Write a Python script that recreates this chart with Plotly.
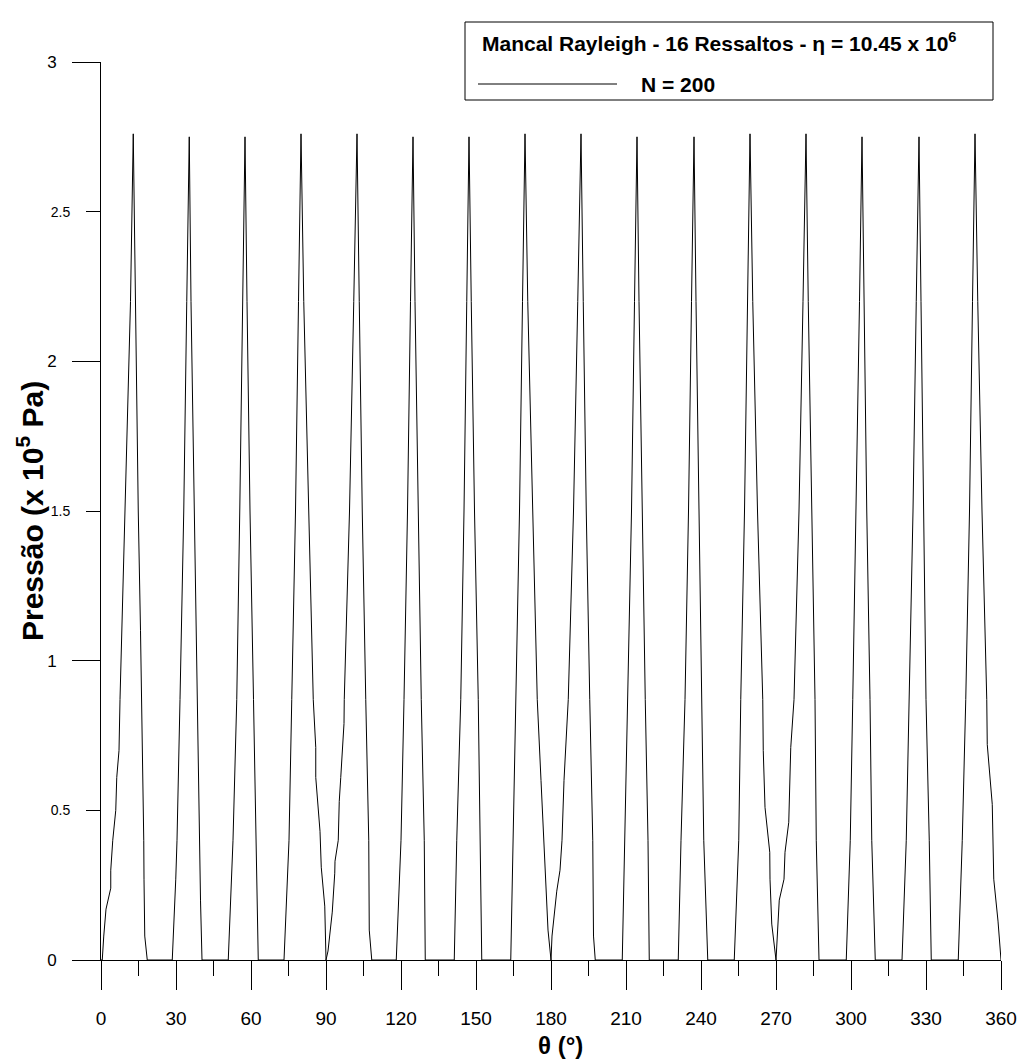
import plotly.graph_objects as go

# Pressure profile of a 16-step Rayleigh bearing, one list of nodes per step
# (angle in degrees, pressure in 1e5 Pa), rising flank -> crest -> falling flank.
spike_theta = [
    [0.5, 1.1, 2.0, 3.9, 3.9, 4.7, 5.9, 6.3, 7.2, 7.6, 8.3, 9.6, 11.8, 12.9, 13.7, 14.9, 15.8, 16.3, 17.1, 17.2, 17.5, 18.5],
    [28.5, 29.9, 30.4, 31.6, 33.1, 34.3, 35.3, 36.0, 37.3, 38.7, 39.5, 39.8, 40.4],
    [50.9, 52.8, 54.3, 55.5, 56.6, 57.6, 58.4, 59.6, 61.0, 62.0, 62.9],
    [73.2, 75.2, 76.3, 77.8, 79.0, 80.0, 81.1, 83.0, 84.9, 85.9, 85.9, 87.6, 88.1, 89.5, 90.0],
    [90.0, 90.8, 92.5, 93.5, 93.6, 94.9, 95.3, 95.9, 97.2, 97.3, 99.4, 101.1, 102.4, 103.3, 104.5, 105.9, 107.1, 107.3, 108.3],
    [118.1, 120.0, 121.2, 122.6, 123.8, 124.8, 125.6, 126.8, 128.1, 129.3, 129.7],
    [141.3, 142.3, 143.9, 145.2, 146.3, 147.2, 148.1, 149.4, 150.9, 151.6, 152.3],
    [163.9, 164.8, 165.9, 167.4, 168.6, 169.6, 170.7, 172.6, 174.5, 176.0, 177.2, 178.5, 178.8, 180.0],
    [180.0, 180.4, 182.3, 183.6, 184.4, 185.2, 186.9, 189.0, 190.7, 192.0, 192.9, 194.1, 195.5, 196.7, 197.0, 197.7],
    [208.5, 209.5, 210.8, 212.2, 213.4, 214.4, 215.2, 216.4, 217.7, 218.8, 219.3],
    [230.9, 232.0, 233.6, 235.0, 236.2, 237.2, 238.0, 239.1, 240.3, 241.1, 242.7],
    [253.3, 255.1, 255.9, 257.4, 258.6, 259.6, 260.7, 262.6, 264.7, 264.9, 265.6, 267.1, 267.5, 267.6, 268.3, 270.0],
    [270.0, 270.5, 271.3, 273.2, 273.6, 275.1, 275.3, 275.6, 275.9, 277.2, 279.2, 280.8, 282.0, 282.9, 284.2, 285.6, 286.1, 287.2],
    [298.1, 299.7, 300.7, 302.1, 303.4, 304.4, 305.2, 306.3, 307.6, 308.3, 309.7],
    [320.4, 322.1, 323.2, 324.8, 326.1, 327.2, 328.0, 328.9, 330.0, 331.3, 332.1],
    [342.9, 344.5, 345.9, 347.4, 348.6, 349.6, 350.7, 352.4, 354.3, 354.5, 356.5, 356.9, 357.1, 358.8, 360.0],
]
spike_pressure = [
    [0.0, 0.08, 0.17, 0.24, 0.30, 0.40, 0.50, 0.61, 0.70, 0.87, 1.1, 1.5, 2.2, 2.76, 2.2, 1.5, 1.1, 0.87, 0.40, 0.27, 0.08, 0.0],
    [0.0, 0.27, 0.40, 0.87, 1.5, 2.2, 2.75, 2.2, 1.5, 0.87, 0.40, 0.20, 0.0],
    [0.0, 0.40, 0.87, 1.5, 2.2, 2.75, 2.2, 1.5, 0.87, 0.40, 0.0],
    [0.0, 0.40, 0.87, 1.5, 2.2, 2.76, 2.2, 1.5, 0.87, 0.71, 0.61, 0.43, 0.31, 0.18, 0.0],
    [0.0, 0.03, 0.16, 0.29, 0.33, 0.40, 0.53, 0.61, 0.79, 0.87, 1.5, 2.2, 2.76, 2.2, 1.5, 0.87, 0.40, 0.10, 0.0],
    [0.0, 0.40, 0.87, 1.5, 2.2, 2.75, 2.2, 1.5, 0.87, 0.40, 0.0],
    [0.0, 0.40, 0.87, 1.5, 2.2, 2.75, 2.2, 1.5, 0.87, 0.40, 0.0],
    [0.0, 0.40, 0.87, 1.5, 2.2, 2.76, 2.2, 1.5, 0.87, 0.60, 0.40, 0.20, 0.10, 0.0],
    [0.0, 0.08, 0.23, 0.30, 0.40, 0.60, 0.87, 1.5, 2.2, 2.76, 2.2, 1.5, 0.87, 0.40, 0.08, 0.0],
    [0.0, 0.40, 0.87, 1.5, 2.2, 2.75, 2.2, 1.5, 0.87, 0.40, 0.0],
    [0.0, 0.40, 0.87, 1.5, 2.2, 2.75, 2.2, 1.5, 0.87, 0.40, 0.0],
    [0.0, 0.40, 0.87, 1.5, 2.2, 2.76, 2.2, 1.5, 0.87, 0.70, 0.51, 0.40, 0.36, 0.27, 0.12, 0.0],
    [0.0, 0.10, 0.20, 0.27, 0.36, 0.46, 0.55, 0.61, 0.71, 0.87, 1.5, 2.2, 2.76, 2.2, 1.5, 0.87, 0.40, 0.0],
    [0.0, 0.40, 0.87, 1.5, 2.2, 2.75, 2.2, 1.5, 0.87, 0.40, 0.0],
    [0.0, 0.40, 0.87, 1.5, 2.2, 2.75, 2.2, 1.5, 0.87, 0.40, 0.0],
    [0.0, 0.40, 0.87, 1.5, 2.2, 2.76, 2.2, 1.5, 0.87, 0.72, 0.52, 0.36, 0.27, 0.13, 0.0],
]

x_major_ticks = list(range(0, 361, 30))
y_major_ticks = [0, 1, 2, 3]
y_half_ticks = [0.5, 1.5, 2.5]

legend_title = "Mancal Rayleigh - 16 Ressaltos - η = 10.45 x 10<sup>6</sup>"
series_name = "N = 200"

# one continuous polyline: the zero plateaus join consecutive steps
theta = [0.0]
pressure = [0.0]
for t, p in zip(spike_theta, spike_pressure):
    theta.extend(t)
    pressure.extend(p)

FONT = "Arial, Liberation Sans, sans-serif"

fig = go.Figure()
fig.add_trace(go.Scatter(
    x=theta, y=pressure, mode="lines",
    line=dict(color="black", width=1),
    name=series_name, showlegend=False, hoverinfo="skip",
))
# carrier for the half-unit tick axis
fig.add_trace(go.Scatter(x=[], y=[], yaxis="y2", showlegend=False))

W, H = 1021, 1059
L, R, T, B = 101, 20, 62, 99

fig.update_layout(
    width=W, height=H,
    margin=dict(l=L, r=R, t=T, b=B, pad=0, autoexpand=False),
    paper_bgcolor="white", plot_bgcolor="white",
    font=dict(family=FONT, color="black"),
    xaxis=dict(
        range=[0, 360], tickvals=x_major_ticks, automargin=False,
        showgrid=False, zeroline=False,
        showline=True, linecolor="black", linewidth=1,
        ticks="outside", ticklen=29, tickwidth=1, tickcolor="black",
        tickfont=dict(size=19, family=FONT),
        ticklabelstandoff=12,
        minor=dict(dtick=15, tick0=0, ticks="outside", ticklen=15, tickwidth=1, tickcolor="black", showgrid=False),
    ),
    yaxis=dict(
        range=[0, 3], tickvals=y_major_ticks, automargin=False,
        showgrid=False, zeroline=False,
        showline=True, linecolor="black", linewidth=1,
        ticks="outside", ticklen=28, tickwidth=1, tickcolor="black",
        tickfont=dict(size=17, family=FONT),
        ticklabelstandoff=12,
    ),
    yaxis2=dict(
        range=[0, 3], tickvals=y_half_ticks, overlaying="y", side="left", anchor="x",
        automargin=False,
        showgrid=False, zeroline=False, showline=False,
        ticks="outside", ticklen=14, tickwidth=1, tickcolor="black",
        tickfont=dict(size=14, family=FONT),
        ticklabelstandoff=13,
    ),
)

def px_x(px):
    return (px - L) / (W - L - R)

def px_y(py):
    return (H - B - py) / (H - T - B)

# legend box with line sample
fig.add_shape(type="rect", xref="paper", yref="paper",
              x0=px_x(465), x1=px_x(993), y0=px_y(100), y1=px_y(22),
              line=dict(color="black", width=1), fillcolor="white", layer="above")
fig.add_shape(type="line", xref="paper", yref="paper",
              x0=px_x(478), x1=px_x(617), y0=px_y(84), y1=px_y(84),
              line=dict(color="black", width=1))
fig.add_annotation(xref="paper", yref="paper", x=px_x(480), y=px_y(42),
                   xanchor="left", yanchor="middle", showarrow=False,
                   text=f"<b>{legend_title}</b>", font=dict(size=21, family=FONT))
fig.add_annotation(xref="paper", yref="paper", x=px_x(639), y=px_y(85),
                   xanchor="left", yanchor="middle", showarrow=False,
                   text=f"<b>{series_name}</b>", font=dict(size=21, family=FONT))

# axis titles
fig.add_annotation(xref="paper", yref="paper", x=px_x(30), y=px_y(511),
                   xanchor="center", yanchor="middle", showarrow=False, textangle=-90,
                   text="<b>Pressão (x 10<sup>5</sup> Pa)</b>", font=dict(size=30, family=FONT))
fig.add_annotation(xref="paper", yref="paper", x=px_x(560), y=px_y(1045),
                   xanchor="center", yanchor="middle", showarrow=False,
                   text="<b>θ (°)</b>", font=dict(size=24, family=FONT))

fig.write_html("out.html")
